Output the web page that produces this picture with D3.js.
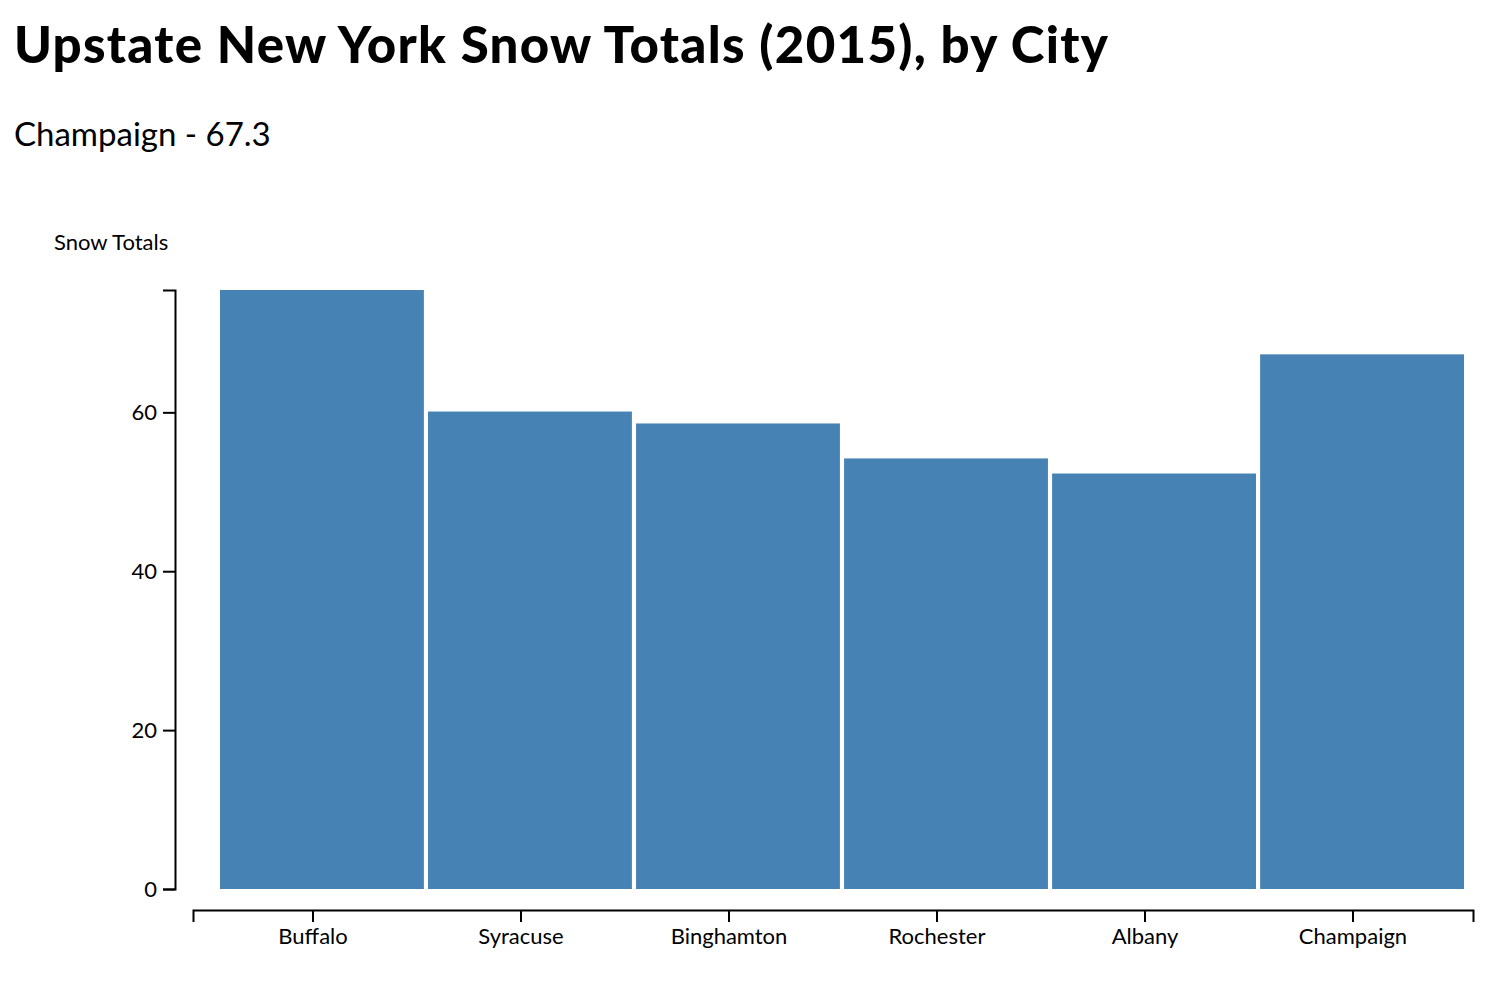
<!DOCTYPE html>
<html lang="en">

<head>
    <meta charset="UTF-8">
    <script src="https://d3js.org/d3.v7.min.js"></script>
    <style>
        body {
            margin: 0;
            background: #fff;
        }

        text {
            font-family: Lato, 'Noto Sans', sans-serif;
        }
    </style>
    <title>Snow Totals</title>
</head>

<body>
    <div class="canvas"></div>
    <script>
        // data
        const cities = ['Buffalo', 'Syracuse', 'Binghamton', 'Rochester', 'Albany', 'Champaign']
        const snowTotals = [75.4, 60.1, 58.6, 54.2, 52.3, 67.3]
        const yTicks = [0, 20, 40, 60]
        const titleText = 'Upstate New York Snow Totals (2015), by City'
        const selected = 5

        const areaWidth = 1512
        const areaHeight = 990
        const svg = d3.select('.canvas')
            .append('svg')
            .attr('width', areaWidth)
            .attr('height', areaHeight)

        const data = cities.map((c, i) => ({ city: c, total: snowTotals[i] }))

        svg.append('text')
            .attr('x', 14)
            .attr('y', 63)
            .attr('textLength', 1094)
            .attr('lengthAdjust', 'spacing')
            .style('font-size', '51px')
            .style('font-weight', 900)
            .text(titleText)

        svg.append('text')
            .attr('x', 14)
            .attr('y', 146)
            .style('font-size', '33px')
            .text(`${data[selected].city} - ${data[selected].total}`)

        svg.append('text')
            .attr('x', 54)
            .attr('y', 250)
            .style('font-size', '22px')
            .text('Snow Totals')

        const y = d3.scaleLinear()
            .domain([0, d3.max(snowTotals)])
            .range([889, 290])

        // axis scale and bar scale are offset in the original
        const x = d3.scaleBand()
            .domain(cities)
            .range([193, 1473])
            .paddingInner(0)
            .paddingOuter(0.077)

        const xBar = d3.scaleBand()
            .domain(cities)
            .range([220, 1464])
            .paddingInner(0.02)
            .paddingOuter(0)

        svg.selectAll('rect').data(data)
            .enter()
            .append('rect')
            .attr('x', d => xBar(d.city))
            .attr('y', d => y(d.total))
            .attr('width', xBar.bandwidth())
            .attr('height', d => y(0) - y(d.total))
            .attr('fill', 'steelblue')

        const yAxisG = svg.append('g')
            .attr('transform', 'translate(175,0)')
            .call(d3.axisLeft(y).tickValues(yTicks).tickSize(12).tickPadding(6))

        const xAxisG = svg.append('g')
            .attr('transform', 'translate(0,910)')
            .call(d3.axisBottom(x).tickSize(12).tickPadding(6))

        svg.selectAll('.domain, .tick line')
            .attr('stroke', '#000')
            .attr('stroke-width', 2)

        svg.selectAll('.tick text')
            .attr('fill', '#000')
            .style('font-size', '22px')
            .style('font-family', 'Lato, sans-serif')
    </script>

</body>

</html>
